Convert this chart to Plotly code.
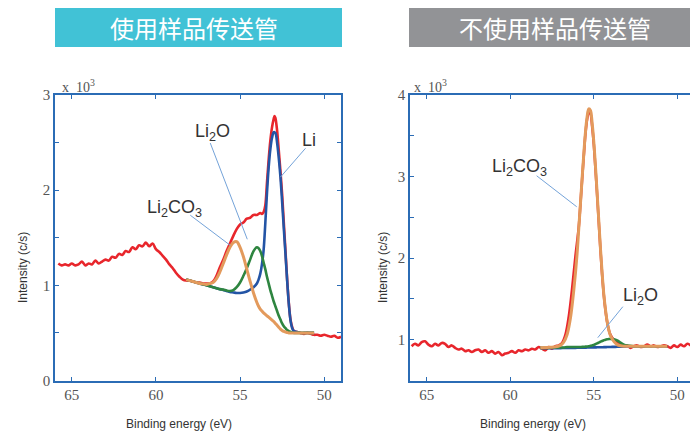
import plotly.graph_objects as go

# ---------------- Li 1s spectra: with transfer vessel ----------------
raw_x_a = [65.8, 65.6, 65.4, 65.2, 65.0, 64.8, 64.6, 64.4, 64.2, 64.0, 63.8, 63.6, 63.4, 63.2, 63.0,
           62.8, 62.6, 62.4, 62.2, 62.0, 61.8, 61.6, 61.4, 61.2, 61.0, 60.8, 60.6, 60.4, 60.2, 60.0,
           59.8, 59.6, 59.4, 59.2, 59.0, 58.8, 58.6, 58.4, 58.2, 58.0, 57.8, 57.6, 57.4, 57.2, 57.0,
           56.8, 56.6, 56.4, 56.2, 56.0, 55.8, 55.6, 55.4, 55.2, 55.0, 54.8, 54.6, 54.4, 54.2, 54.0,
           53.8, 53.7, 53.6, 53.5, 53.4, 53.3, 53.2, 53.1, 53.0, 52.95, 52.9, 52.8, 52.7, 52.6, 52.5,
           52.4, 52.3, 52.2, 52.1, 52.0, 51.9, 51.8, 51.6, 51.4, 51.2, 51.0, 50.8, 50.6, 50.4, 50.2,
           50.0, 49.8, 49.6, 49.4, 49.2, 49.0]
raw_y_a = [1.23, 1.21, 1.22, 1.21, 1.23, 1.21, 1.22, 1.25, 1.21, 1.23, 1.22, 1.26, 1.23, 1.25, 1.27,
           1.26, 1.30, 1.29, 1.33, 1.32, 1.36, 1.35, 1.40, 1.38, 1.42, 1.41, 1.45, 1.41, 1.44, 1.38,
           1.35, 1.31, 1.27, 1.22, 1.18, 1.13, 1.09, 1.06, 1.05, 1.05, 1.04, 1.03, 1.03, 1.02, 1.02,
           1.02, 1.04, 1.10, 1.19, 1.27, 1.36, 1.44, 1.52, 1.59, 1.64, 1.66, 1.70, 1.71, 1.74, 1.74,
           1.76, 1.75, 1.77, 1.84, 2.08, 2.32, 2.52, 2.66, 2.75, 2.78, 2.76, 2.63, 2.42, 2.20, 1.96,
           1.66, 1.36, 1.06, 0.81, 0.64, 0.56, 0.52, 0.51, 0.50, 0.49, 0.50, 0.49, 0.48, 0.48, 0.47,
           0.48, 0.47, 0.46, 0.47, 0.45, 0.46]

fit_x_a = [58.2, 58.0, 57.8, 57.6, 57.4, 57.2, 57.0, 56.8, 56.6, 56.4, 56.2, 56.0, 55.8, 55.6, 55.4,
           55.2, 55.0, 54.8, 54.6, 54.4, 54.2, 54.0, 53.9, 53.8, 53.7, 53.6, 53.5, 53.4, 53.3, 53.2,
           53.1, 53.0, 52.9, 52.8, 52.7, 52.6, 52.5, 52.4, 52.3, 52.2, 52.1, 52.0, 51.9, 51.8, 51.6,
           51.4, 51.2, 51.0, 50.8, 50.6]
li_y_a = [1.06, 1.05, 1.04, 1.03, 1.02, 1.01, 1.00, 0.99, 0.98, 0.97, 0.96, 0.95, 0.94, 0.93, 0.925,
          0.92, 0.92, 0.925, 0.935, 0.955, 0.98, 1.02, 1.06, 1.12, 1.22, 1.37, 1.65, 1.97, 2.24, 2.43,
          2.55, 2.61, 2.60, 2.50, 2.34, 2.14, 1.88, 1.60, 1.33, 1.05, 0.80, 0.63, 0.55, 0.52, 0.51,
          0.50, 0.50, 0.50, 0.50, 0.50]
li2o_y_a = [1.06, 1.05, 1.04, 1.03, 1.02, 1.01, 1.00, 0.99, 0.98, 0.97, 0.96, 0.955, 0.945, 0.94, 0.95,
            0.98, 1.03, 1.10, 1.18, 1.27, 1.36, 1.40, 1.39, 1.36, 1.31, 1.24, 1.17, 1.09, 1.02, 0.95,
            0.89, 0.83, 0.78, 0.73, 0.68, 0.64, 0.60, 0.57, 0.55, 0.53, 0.52, 0.51, 0.505, 0.50, 0.50,
            0.50, 0.50, 0.50, 0.50, 0.50]
li2co3_y_a = [1.06, 1.05, 1.04, 1.03, 1.02, 1.015, 1.01, 1.02, 1.03, 1.07, 1.14, 1.23, 1.32, 1.40, 1.45,
              1.46, 1.40, 1.30, 1.17, 1.04, 0.92, 0.82, 0.78, 0.75, 0.73, 0.71, 0.695, 0.68, 0.665, 0.65,
              0.635, 0.62, 0.60, 0.58, 0.56, 0.54, 0.525, 0.515, 0.51, 0.505, 0.50, 0.50, 0.50, 0.50, 0.50,
              0.50, 0.50, 0.50, 0.50, 0.50]

# ---------------- Li 1s spectra: without transfer vessel ----------------
raw_x_b = [65.9, 65.7, 65.5, 65.3, 65.1, 64.9, 64.7, 64.5, 64.3, 64.1, 63.9, 63.7, 63.5, 63.3, 63.1,
           62.9, 62.7, 62.5, 62.3, 62.1, 61.9, 61.7, 61.5, 61.3, 61.1, 60.9, 60.7, 60.5, 60.3, 60.1,
           59.9, 59.7, 59.5, 59.3, 59.1, 58.9, 58.7, 58.5, 58.3, 58.1, 57.9, 57.7, 57.5, 57.3, 57.1,
           56.9, 56.7, 56.5, 56.3, 56.1,
           55.9, 55.8, 55.7, 55.6, 55.5, 55.4, 55.3, 55.2, 55.1, 55.0, 54.9, 54.8, 54.7, 54.6, 54.5,
           54.4, 54.3, 54.2, 54.1, 54.0,
           53.8, 53.6, 53.4, 53.2, 53.0, 52.8, 52.6, 52.4, 52.2, 52.0, 51.8, 51.6, 51.4, 51.2, 51.0,
           50.8, 50.6, 50.4, 50.2, 50.0, 49.8, 49.6, 49.4, 49.2]
raw_y_b = [0.92, 0.95, 0.93, 0.97, 0.98, 0.94, 0.92, 0.95, 0.93, 0.96, 0.95, 0.91, 0.93, 0.90, 0.88,
           0.89, 0.86, 0.87, 0.85, 0.87, 0.88, 0.85, 0.87, 0.84, 0.86, 0.83, 0.85, 0.81, 0.83, 0.84,
           0.86, 0.84, 0.87, 0.86, 0.88, 0.87, 0.89, 0.88, 0.91, 0.89, 0.87, 0.91, 0.89, 0.92, 0.93,
           0.96, 1.06, 1.28, 1.62, 2.02,
           2.38, 2.66, 2.96, 3.25, 3.52, 3.70, 3.79, 3.77, 3.62, 3.40, 3.10, 2.78, 2.44, 2.10, 1.80,
           1.55, 1.36, 1.22, 1.12, 1.06,
           1.00, 0.97, 0.94, 0.92, 0.93, 0.90, 0.92, 0.93, 0.91, 0.92, 0.94, 0.92, 0.93, 0.91, 0.92,
           0.93, 0.92, 0.90, 0.93, 0.91, 0.94, 0.92, 0.95, 0.93]

fit_x_b = [58.2, 57.8, 57.4, 57.0, 56.8, 56.6, 56.4, 56.2, 56.0,
           55.9, 55.8, 55.7, 55.6, 55.5, 55.4, 55.3, 55.2, 55.1, 55.0,
           54.9, 54.8, 54.7, 54.6, 54.5, 54.4, 54.3, 54.2, 54.1, 54.0,
           53.8, 53.6, 53.4, 53.2, 53.0, 52.6, 52.2, 51.8, 51.4, 51.0, 50.6]
li_y_b = [0.895, 0.895, 0.896, 0.897, 0.898, 0.899, 0.900, 0.900, 0.901,
          0.901, 0.902, 0.902, 0.903, 0.903, 0.904, 0.904, 0.905, 0.905, 0.906,
          0.906, 0.907, 0.907, 0.908, 0.908, 0.909, 0.909, 0.910, 0.910, 0.911,
          0.912, 0.913, 0.914, 0.915, 0.916, 0.917, 0.918, 0.919, 0.920, 0.920, 0.920]
li2o_y_b = [0.900, 0.900, 0.905, 0.905, 0.905, 0.910, 0.910, 0.910, 0.910,
            0.910, 0.910, 0.912, 0.913, 0.915, 0.917, 0.920, 0.925, 0.930, 0.937,
            0.945, 0.955, 0.965, 0.975, 0.985, 0.993, 1.000, 1.005, 1.008, 1.010,
            1.005, 0.990, 0.965, 0.940, 0.928, 0.920, 0.920, 0.920, 0.920, 0.920, 0.920]
li2co3_y_b = [0.900, 0.905, 0.910, 0.930, 0.970, 1.06, 1.26, 1.60, 2.05,
              2.36, 2.66, 2.97, 3.27, 3.54, 3.73, 3.83, 3.81, 3.66, 3.43,
              3.13, 2.80, 2.46, 2.12, 1.82, 1.56, 1.37, 1.22, 1.12, 1.05,
              0.98, 0.94, 0.925, 0.920, 0.920, 0.920, 0.920, 0.920, 0.920, 0.920, 0.920]

panel_titles = ["使用样品传送管", "不使用样品传送管"]
banner_colors = ["#41c2d6", "#929396"]

W, H = 690, 432
RED, BLUE, GREEN, ORANGE = "#e8262c", "#2354a5", "#2e8540", "#e39a5c"
AXIS = "#2b6cb5"
POINTER = "#74a3d9"


def px(x):
    return x / W


def py(y):
    return 1 - y / H


fig = go.Figure()


def add_panel(xa, ya, raw_x, raw_y, fit_x, li, li2o, li2co3):
    common = dict(xaxis=xa, yaxis=ya, mode="lines", showlegend=False,
                  line_shape="spline", hoverinfo="skip")
    fig.add_trace(go.Scatter(x=raw_x, y=raw_y, line=dict(color=RED, width=2.6), **common))
    fig.add_trace(go.Scatter(x=fit_x, y=li, line=dict(color=BLUE, width=2.6), **common))
    fig.add_trace(go.Scatter(x=fit_x, y=li2o, line=dict(color=GREEN, width=2.6), **common))
    fig.add_trace(go.Scatter(x=fit_x, y=li2co3, line=dict(color=ORANGE, width=3), **common))


add_panel("x", "y", raw_x_a, raw_y_a, fit_x_a, li_y_a, li2o_y_a, li2co3_y_a)
add_panel("x2", "y2", raw_x_b, raw_y_b, fit_x_b, li_y_b, li2o_y_b, li2co3_y_b)

tick_font = dict(family="Liberation Serif", size=15, color="#555555")
axis_base = dict(showline=True, linecolor=AXIS, linewidth=1.5, ticks="inside", ticklen=4,
                 tickcolor=AXIS, tickwidth=1, showgrid=False, zeroline=False, tickfont=tick_font)

y_dom = [py(380.5), py(95)]

fig.update_layout(
    width=W, height=H, margin=dict(l=0, r=0, t=0, b=0, autoexpand=False),
    paper_bgcolor="white", plot_bgcolor="white",
    xaxis=dict(axis_base, domain=[px(55), px(341)], range=[66, 49], anchor="y",
               tickvals=[65, 60, 55, 50], mirror="ticks"),
    yaxis=dict(axis_base, domain=y_dom, range=[0, 3], anchor="x",
               tickvals=[0, 0.5, 1, 1.5, 2, 2.5, 3], ticktext=["0", "", "1", "", "2", "", "3"],
               mirror="ticks"),
    xaxis2=dict(axis_base, domain=[px(410), 1.0], range=[66, 49.24], anchor="y2",
                tickvals=[65, 60, 55, 50], mirror="ticks"),
    yaxis2=dict(axis_base, domain=y_dom, range=[0.5, 4], anchor="x2",
                tickvals=[0.5, 1, 1.5, 2, 2.5, 3, 3.5, 4],
                ticktext=["", "1", "", "2", "", "3", "", "4"]),
)

# title banners
banner_spans = [(55, 342, 193.5), (409, 690, 555)]
for (x0, x1, xc), color, title in zip(banner_spans, banner_colors, panel_titles):
    fig.add_shape(type="rect", xref="paper", yref="paper", x0=px(x0), x1=px(x1),
                  y0=py(47), y1=py(8), fillcolor=color, line=dict(width=0), layer="below")
    fig.add_annotation(xref="paper", yref="paper", x=px(xc), y=py(27.5), text=title,
                       showarrow=False, xanchor="center", yanchor="middle",
                       font=dict(family="Noto Sans CJK SC", size=24, color="white"))

# scale factor labels, axis titles
for xl, xc_title, yc_title in [(60, 179, 23), (412, 533, 383)]:
    fig.add_annotation(xref="paper", yref="paper", x=px(xl), y=py(86), text="x  10<sup>3</sup>",
                       showarrow=False, xanchor="left", yanchor="middle",
                       font=dict(family="Liberation Serif", size=14, color="#555555"))
    fig.add_annotation(xref="paper", yref="paper", x=px(xc_title), y=py(424),
                       text="Binding energy (eV)", showarrow=False,
                       xanchor="center", yanchor="middle",
                       font=dict(family="Liberation Sans", size=12, color="#333333"))
    fig.add_annotation(xref="paper", yref="paper", x=px(yc_title), y=py(268),
                       text="Intensity (c/s)", showarrow=False, textangle=-90,
                       xanchor="center", yanchor="middle",
                       font=dict(family="Liberation Sans", size=12, color="#333333"))

# peak labels with pointer lines (data coordinates)
peak_labels = [
    ("x", "y", "Li<sub>2</sub>O", 56.65, 2.61, (56.77, 2.495, 54.57, 1.484)),
    ("x", "y", "Li", 50.93, 2.53, (51.11, 2.44, 52.6, 2.137)),
    ("x", "y", "Li<sub>2</sub>CO<sub>3</sub>", 58.91, 1.81, (57.96, 1.737, 55.58, 1.42)),
    ("x2", "y2", "Li<sub>2</sub>CO<sub>3</sub>", 59.44, 3.11, (58.42, 3.01, 56.02, 2.63)),
    ("x2", "y2", "Li<sub>2</sub>O", 52.18, 1.53, (53.26, 1.405, 54.76, 1.025)),
]
for xr, yr, text, tx, ty, (lx0, ly0, lx1, ly1) in peak_labels:
    fig.add_shape(type="line", xref=xr, yref=yr, x0=lx0, y0=ly0, x1=lx1, y1=ly1,
                  line=dict(color=POINTER, width=1))
    fig.add_annotation(xref=xr, yref=yr, x=tx, y=ty, text=text, showarrow=False,
                       xanchor="center", yanchor="middle",
                       font=dict(family="Liberation Sans", size=18, color="#333333"))

fig.write_html("out.html")
